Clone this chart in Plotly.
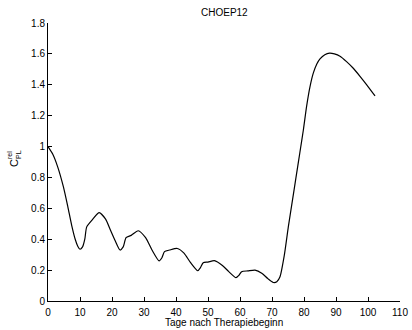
import plotly.graph_objects as go

days = [0, 1.5, 3.0, 4.8, 6.2, 7.4, 8.5, 9.3, 10.0, 10.8, 11.5, 12.1, 14.0, 16.0, 18.0, 19.5, 21.0, 22.5, 23.5, 24.4,
        26.0, 28.2, 30.5, 32.5, 34.7, 35.6, 36.4, 38.0, 40.4, 42.5, 44.5, 46.8, 47.6, 48.5,
        50.0, 52.0, 54.5, 56.5, 58.75, 59.6, 60.5, 62.5, 64.7, 66.8, 68.7, 70.4, 71.5,
        72.5, 73.8, 75.1, 76.3, 77.5, 78.7, 79.8, 80.8, 81.8, 82.9, 84.0, 85.0, 86.5, 88.0, 89.5,
        91.25, 93.3, 95.4, 97.5, 99.6, 102.2]
crel = [1.0, 0.95, 0.87, 0.74, 0.61, 0.49, 0.40, 0.355, 0.335, 0.35, 0.40, 0.48, 0.53, 0.572, 0.53, 0.46, 0.39, 0.33, 0.35, 0.41,
        0.425, 0.455, 0.41, 0.33, 0.26, 0.28, 0.32, 0.33, 0.34, 0.31, 0.25, 0.196, 0.215, 0.248,
        0.252, 0.261, 0.23, 0.19, 0.151, 0.165, 0.19, 0.195, 0.20, 0.18, 0.145, 0.12, 0.125,
        0.157, 0.29, 0.48, 0.64, 0.80, 0.96, 1.107, 1.258, 1.38, 1.475, 1.535, 1.568, 1.595, 1.605, 1.60,
        1.585, 1.55, 1.507, 1.455, 1.40, 1.328]

x_ticks = [0, 10, 20, 30, 40, 50, 60, 70, 80, 90, 100, 110]
y_ticks = [0, 0.2, 0.4, 0.6, 0.8, 1, 1.2, 1.4, 1.6, 1.8]
y_tick_labels = ["0", "0.2", "0.4", "0.6", "0.8", "1", "1.2", "1.4", "1.6", "1.8"]

font = "Liberation Sans, Arial, sans-serif"

fig = go.Figure()
fig.add_trace(go.Scatter(x=days, y=crel, mode="lines",
                         line=dict(color="black", width=1.2, shape="spline", smoothing=0.6),
                         showlegend=False, hoverinfo="skip"))

fig.update_layout(
    width=412, height=330,
    margin=dict(l=48, r=12, t=23, b=29),
    paper_bgcolor="white", plot_bgcolor="white",
    font=dict(family=font, size=10, color="black"),
    xaxis=dict(range=[0, 110], tickvals=x_ticks, ticks="inside", ticklen=4,
               tickcolor="black", showline=True, linecolor="black", linewidth=1,
               showgrid=False, zeroline=False, tickfont=dict(size=10),
               automargin=False, ticklabelstandoff=2),
    yaxis=dict(range=[0, 1.8], tickvals=y_ticks, ticktext=y_tick_labels, ticks="inside",
               ticklen=4, tickcolor="black", showline=True, linecolor="black", linewidth=1,
               showgrid=False, zeroline=False, tickfont=dict(size=10), automargin=False),
)

# pixel-positioned texts (title, axis labels)
texts = [
    ("CHOEP12", 224, 12, 10, 0),
    ("Tage nach Therapiebeginn", 224, 322, 10, 0),
    ("C", 14, 163, 11, -90),
    ("rel", 9, 155, 7, -90),
    ("PL", 18, 155, 7, -90),
]
pw, ph = 412 - 48 - 12, 330 - 23 - 29
for t, px, py, sz, ang in texts:
    fig.add_annotation(text=t, x=(px - 48) / pw, y=(330 - 29 - py) / ph,
                       xref="paper", yref="paper", showarrow=False, textangle=ang,
                       xanchor="center", yanchor="middle",
                       font=dict(size=sz, family=font, color="black"))

fig.write_html("out.html")
